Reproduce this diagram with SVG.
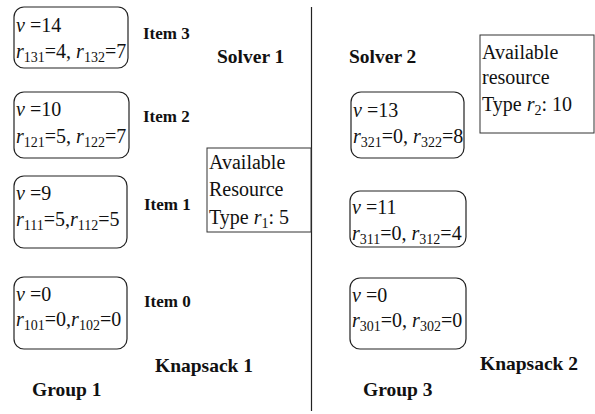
<svg xmlns="http://www.w3.org/2000/svg" width="595" height="414" viewBox="0 0 595 414">
  <style>
    .t{font-family:"Liberation Serif","Times New Roman",serif;font-size:20px;fill:#111}
    .b{font-family:"Liberation Serif","Times New Roman",serif;font-weight:bold;fill:#111}
    .i{font-style:italic}
    .s{font-size:14px}
    .lbl{font-size:17px}
    .big{font-size:19.5px}
    .box{fill:#fff;stroke:#222;stroke-width:1.2}
    .res{fill:#fff;stroke:#333;stroke-width:1}
    .rule{stroke:#222;stroke-width:1.2}
  </style>
  <rect width="595" height="414" fill="#fff"/>

  <!-- divider between the two solvers -->
  <g id="divider">
    <line class="rule" x1="311.5" y1="7" x2="311.5" y2="411"/>
  </g>

  <!-- Solver 1 / Knapsack 1 / Group 1 -->
  <g id="item3">
    <rect class="box" x="14" y="7" width="114" height="61" rx="10"/>
    <text class="t" x="16" y="32"><tspan class="i">v</tspan> =14</text>
    <text class="t" x="16" y="58"><tspan class="i">r</tspan><tspan class="s" dy="4">131</tspan><tspan dy="-4">=4, </tspan><tspan class="i">r</tspan><tspan class="s" dy="4">132</tspan><tspan dy="-4">=7</tspan></text>
    <text class="b lbl" x="143" y="39">Item 3</text>
  </g>
  <g id="item2">
    <rect class="box" x="14" y="92" width="115" height="66" rx="10"/>
    <text class="t" x="16" y="116"><tspan class="i">v</tspan> =10</text>
    <text class="t" x="16" y="143"><tspan class="i">r</tspan><tspan class="s" dy="4">121</tspan><tspan dy="-4">=5, </tspan><tspan class="i">r</tspan><tspan class="s" dy="4">122</tspan><tspan dy="-4">=7</tspan></text>
    <text class="b lbl" x="143" y="122">Item 2</text>
  </g>
  <g id="item1">
    <rect class="box" x="14" y="176" width="113" height="72" rx="10"/>
    <text class="t" x="16" y="200"><tspan class="i">v</tspan> =9</text>
    <text class="t" x="16" y="226"><tspan class="i">r</tspan><tspan class="s" dy="4">111</tspan><tspan dy="-4">=5,</tspan><tspan class="i">r</tspan><tspan class="s" dy="4">112</tspan><tspan dy="-4">=5</tspan></text>
    <text class="b lbl" x="144" y="210">Item 1</text>
  </g>
  <g id="item0">
    <rect class="box" x="14" y="277" width="113" height="72" rx="10"/>
    <text class="t" x="16" y="301"><tspan class="i">v</tspan> =0</text>
    <text class="t" x="16" y="326"><tspan class="i">r</tspan><tspan class="s" dy="4">101</tspan><tspan dy="-4">=0,</tspan><tspan class="i">r</tspan><tspan class="s" dy="4">102</tspan><tspan dy="-4">=0</tspan></text>
    <text class="b lbl" x="144" y="307">Item 0</text>
  </g>
  <g id="resource1">
    <rect class="res" x="207" y="148" width="104" height="84"/>
    <text class="t" x="209" y="169">Available</text>
    <text class="t" x="209" y="196">Resource</text>
    <text class="t" x="209" y="224">Type <tspan class="i">r</tspan><tspan class="s" dy="4">1</tspan><tspan dy="-4">: 5</tspan></text>
  </g>
  <g id="labels1">
    <text class="b big" x="217" y="63">Solver 1</text>
    <text class="b big" x="155" y="372">Knapsack 1</text>
    <text class="b big" x="32" y="396">Group 1</text>
  </g>

  <!-- Solver 2 / Knapsack 2 / Group 3 -->
  <g id="item32">
    <rect class="box" x="351" y="92" width="113" height="66" rx="10"/>
    <text class="t" x="353" y="117"><tspan class="i">v</tspan> =13</text>
    <text class="t" x="353" y="143"><tspan class="i">r</tspan><tspan class="s" dy="4">321</tspan><tspan dy="-4">=0, </tspan><tspan class="i">r</tspan><tspan class="s" dy="4">322</tspan><tspan dy="-4">=8</tspan></text>
  </g>
  <g id="item31">
    <rect class="box" x="350" y="191" width="116" height="56" rx="10"/>
    <text class="t" x="352" y="214"><tspan class="i">v</tspan> =11</text>
    <text class="t" x="352" y="240"><tspan class="i">r</tspan><tspan class="s" dy="4">311</tspan><tspan dy="-4">=0, </tspan><tspan class="i">r</tspan><tspan class="s" dy="4">312</tspan><tspan dy="-4">=4</tspan></text>
  </g>
  <g id="item30">
    <rect class="box" x="350" y="278" width="116" height="71" rx="10"/>
    <text class="t" x="352" y="302"><tspan class="i">v</tspan> =0</text>
    <text class="t" x="352" y="327"><tspan class="i">r</tspan><tspan class="s" dy="4">301</tspan><tspan dy="-4">=0, </tspan><tspan class="i">r</tspan><tspan class="s" dy="4">302</tspan><tspan dy="-4">=0</tspan></text>
  </g>
  <g id="resource2">
    <rect class="res" x="480" y="35" width="114" height="98"/>
    <text class="t" x="482" y="59">Available</text>
    <text class="t" x="482" y="84">resource</text>
    <text class="t" x="482" y="111">Type <tspan class="i">r</tspan><tspan class="s" dy="4">2</tspan><tspan dy="-4">: 10</tspan></text>
  </g>
  <g id="labels2">
    <text class="b big" x="349" y="63">Solver 2</text>
    <text class="b big" x="480" y="370">Knapsack 2</text>
    <text class="b big" x="363" y="396">Group 3</text>
  </g>
</svg>
